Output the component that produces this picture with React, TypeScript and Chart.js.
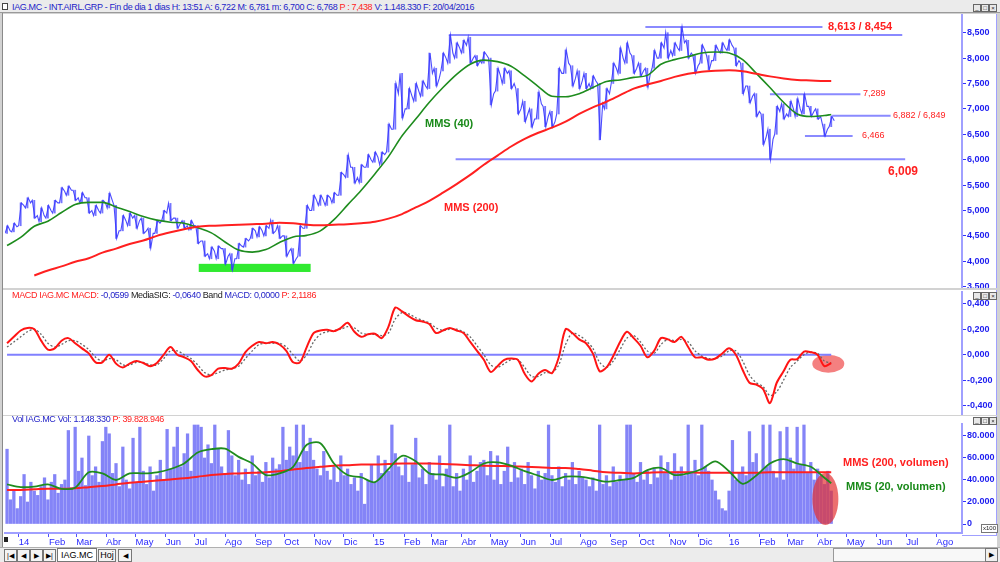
import React, { useEffect, useRef } from "react";
import { Chart, registerables } from "chart.js";

Chart.register(...registerables);

const FONT = 'Arial, "Liberation Sans", Helvetica, sans-serif';

// ---------- time axis ----------
const START_DATE = "2013-12-20"; // date of the first weekly bar
const MONTH_LABELS = ["14","Feb","Mar","Abr","May","Jun","Jul","Ago","Sep","Oct","Nov","Dic","15","Feb","Mar","Abr","May","Jun","Jul","Ago","Sep","Oct","Nov","Dic","16","Feb","Mar","Abr","May","Jun","Jul","Ago"];
const FIRST_YEAR = 2014;

// ---------- price (EUR), one entry per week from START_DATE ----------
const PRICE_HIGH = [
  4.70, 4.75, 5.15, 5.25, 5.20, 5.05, 5.10, 5.20, 5.45, 5.48,
  5.40, 5.35, 5.25, 5.10, 5.20, 5.34, 5.10, 4.90, 4.95, 4.90,
  4.85, 4.65, 4.80, 5.00, 5.14, 4.85, 4.80, 4.80, 4.70, 4.40,
  4.28, 4.30, 4.25, 4.15, 4.35, 4.45, 4.65, 4.68, 4.70, 4.81,
  4.70, 4.50, 4.25, 4.70, 5.10, 5.30, 5.30, 5.30, 5.35, 5.75,
  6.09, 5.85, 5.90, 6.10, 6.15, 6.15, 6.70, 7.50, 7.70, 7.40,
  7.50, 7.55, 8.10, 7.80, 8.10, 8.45, 8.30, 8.35, 8.41, 8.05,
  8.12, 8.00, 7.80, 7.80, 7.75, 7.40, 7.15, 7.00, 7.33, 7.05,
  6.95, 7.80, 8.16, 7.85, 7.75, 7.70, 7.65, 7.50, 7.40, 7.90,
  8.20, 8.30, 8.05, 7.90, 7.80, 8.15, 8.30, 8.50, 8.30, 8.613,
  8.35, 8.05, 8.26, 8.05, 8.25, 8.30, 8.36, 8.20, 7.90, 7.45,
  7.30, 6.90, 6.60, 7.05, 7.10, 7.15, 7.20, 7.289, 7.05, 7.00,
  6.70, 6.85,
];
const PRICE_LOW = [
  4.55, 4.58, 4.70, 5.05, 4.85, 4.78, 4.85, 4.95, 5.15, 5.30,
  5.20, 5.15, 4.95, 4.90, 4.95, 5.05, 4.45, 4.60, 4.70, 4.65,
  4.55, 4.26, 4.55, 4.80, 4.80, 4.65, 4.65, 4.62, 4.35, 4.10,
  4.05, 4.05, 3.95, 3.83, 4.05, 4.28, 4.45, 4.48, 4.50, 4.55,
  4.45, 4.10, 3.96, 4.10, 4.65, 5.00, 5.10, 5.10, 5.15, 5.30,
  5.65, 5.54, 5.55, 5.85, 5.95, 5.90, 6.15, 6.60, 6.82, 7.00,
  7.15, 7.25, 7.40, 7.45, 7.75, 7.90, 8.00, 8.10, 7.90, 7.85,
  7.90, 7.08, 7.35, 7.50, 7.40, 6.90, 6.75, 6.64, 6.80, 6.65,
  6.64, 6.90, 7.70, 7.45, 7.40, 7.40, 7.40, 6.39, 7.00, 7.50,
  7.70, 7.90, 7.70, 7.65, 7.43, 7.80, 8.00, 8.00, 8.05, 8.15,
  8.00, 7.70, 7.90, 7.77, 7.95, 8.10, 8.15, 7.85, 7.30, 7.12,
  6.85, 6.30, 6.009, 6.50, 6.80, 6.85, 6.85, 6.90, 6.85, 6.80,
  6.466, 6.65,
];
const PRICE_CLOSE = [
  4.60, 4.68, 5.10, 5.15, 4.90, 4.90, 5.00, 5.15, 5.38, 5.40,
  5.25, 5.25, 5.00, 5.00, 5.15, 5.20, 4.60, 4.80, 4.85, 4.80,
  4.60, 4.55, 4.75, 4.95, 4.85, 4.75, 4.70, 4.70, 4.40, 4.15,
  4.20, 4.25, 4.10, 4.05, 4.30, 4.40, 4.60, 4.60, 4.65, 4.60,
  4.50, 4.20, 4.05, 4.65, 5.00, 5.20, 5.20, 5.25, 5.30, 5.70,
  5.85, 5.65, 5.85, 6.00, 6.05, 6.10, 6.60, 7.30, 7.00, 7.25,
  7.35, 7.45, 7.70, 7.60, 8.00, 8.10, 8.20, 8.25, 8.00, 7.95,
  8.05, 7.30, 7.65, 7.70, 7.50, 7.00, 6.90, 6.80, 7.10, 6.85,
  6.75, 7.70, 7.90, 7.60, 7.55, 7.50, 7.55, 7.10, 7.30, 7.80,
  8.00, 8.10, 7.80, 7.75, 7.70, 8.00, 8.20, 8.15, 8.20, 8.30,
  8.10, 7.85, 8.15, 7.95, 8.15, 8.20, 8.25, 7.95, 7.45, 7.25,
  6.95, 6.45, 6.40, 6.95, 6.90, 7.00, 7.00, 7.05, 6.95, 6.85,
  6.60, 6.768,
];

// moving averages read every second week (weeks 0,2,...,120) plus the last week
const MMS40 = [
  4.31, 4.47, 4.69, 4.79, 4.96, 5.12, 5.16, 5.16, 5.07, 4.98,
  4.88, 4.81, 4.77, 4.75, 4.66, 4.56, 4.38, 4.22, 4.18, 4.23,
  4.37, 4.48, 4.51, 4.60, 4.82, 5.11, 5.40, 5.72, 6.06, 6.47,
  6.80, 7.13, 7.42, 7.68, 7.88, 7.96, 7.93, 7.84, 7.65, 7.44,
  7.25, 7.24, 7.30, 7.42, 7.54, 7.57, 7.62, 7.66, 7.88, 7.97,
  8.03, 8.10, 8.12, 8.10, 7.97, 7.70, 7.42, 7.13, 6.90, 6.85,
  6.87, 6.89,
];
const MMS200 = [
  null, null, 3.72, 3.82, 3.90, 3.99, 4.06, 4.17, 4.25, 4.34,
  4.41, 4.50, 4.57, 4.63, 4.68, 4.70, 4.71, 4.72, 4.73, 4.74,
  4.76, 4.75, 4.72, 4.71, 4.72, 4.73, 4.75, 4.78, 4.84, 4.93,
  5.06, 5.19, 5.35, 5.52, 5.70, 5.90, 6.08, 6.26, 6.41, 6.53,
  6.63, 6.75, 6.90, 7.03, 7.14, 7.27, 7.40, 7.48, 7.55, 7.63,
  7.69, 7.73, 7.75, 7.76, 7.74, 7.69, 7.64, 7.60, 7.57, 7.56,
  7.55, 7.55,
];
const PRICE_TICKS = [3.5, 4, 4.5, 5, 5.5, 6, 6.5, 7, 7.5, 8, 8.5];

// horizontal reference levels
const LEVEL_VALUES = [8.613, 8.454, 7.289, 6.866, 6.466, 6.009];
const LEVEL_FROM = ["2015-10-07", "2015-03-19", "2016-02-12", "2016-04-16", "2016-03-19", "2015-03-26"];
const LEVEL_TO = ["2016-04-06", "2016-06-27", "2016-05-15", "2016-06-15", "2016-05-07", "2016-06-30"];

// support zone (green band)
const SUPPORT_DATES = ["2014-07-05", "2014-10-28"];
const SUPPORT_RANGE = [3.79, 3.95];

// ---------- MACD, one entry per week ----------
const MACD = [
  0.09, 0.14, 0.19, 0.21, 0.20, 0.11, 0.04, 0.05, 0.11, 0.13,
  0.09, 0.05, 0.01, -0.06, -0.06, 0.00, -0.07, -0.10, -0.07, -0.05,
  -0.065, -0.09, -0.065, 0.00, 0.06, 0.00, -0.02, -0.05, -0.12, -0.17,
  -0.16, -0.11, -0.105, -0.11, -0.07, 0.02, 0.07, 0.10, 0.09, 0.10,
  0.08, 0.03, -0.06, -0.06, 0.06, 0.17, 0.19, 0.195, 0.185, 0.21,
  0.25, 0.18, 0.14, 0.16, 0.165, 0.13, 0.22, 0.37, 0.34, 0.30,
  0.27, 0.26, 0.24, 0.17, 0.19, 0.21, 0.19, 0.17, 0.10, 0.03,
  -0.04, -0.135, -0.09, -0.04, -0.03, -0.04, -0.15, -0.21, -0.15, -0.12,
  -0.145, -0.02, 0.20, 0.17, 0.12, 0.09, 0.01, -0.13, -0.10, -0.01,
  0.10, 0.18, 0.13, 0.07, -0.02, 0.03, 0.13, 0.12, 0.10, 0.14,
  0.06, -0.02, -0.02, -0.04, -0.03, 0.01, 0.05, 0.00, -0.12, -0.22,
  -0.235, -0.27, -0.38, -0.22, -0.13, -0.04, -0.035, 0.025, 0.02, 0.00,
  -0.09, -0.065,
];
const MACD_SIGNAL = [
  0.06, 0.10, 0.14, 0.18, 0.20, 0.16, 0.09, 0.06, 0.08, 0.11,
  0.11, 0.08, 0.04, -0.02, -0.05, -0.03, -0.04, -0.08, -0.08, -0.06,
  -0.06, -0.08, -0.08, -0.03, 0.03, 0.03, 0.00, -0.03, -0.08, -0.14,
  -0.16, -0.14, -0.12, -0.11, -0.09, -0.03, 0.03, 0.08, 0.09, 0.09,
  0.09, 0.06, 0.00, -0.05, 0.00, 0.10, 0.16, 0.18, 0.19, 0.20,
  0.22, 0.21, 0.17, 0.16, 0.16, 0.15, 0.17, 0.28, 0.33, 0.32,
  0.29, 0.27, 0.25, 0.21, 0.19, 0.20, 0.20, 0.18, 0.14, 0.07,
  0.00, -0.08, -0.10, -0.07, -0.04, -0.04, -0.10, -0.17, -0.17, -0.14,
  -0.14, -0.08, 0.08, 0.17, 0.15, 0.11, 0.05, -0.06, -0.10, -0.05,
  0.04, 0.13, 0.15, 0.10, 0.03, 0.01, 0.08, 0.12, 0.11, 0.12,
  0.10, 0.03, -0.01, -0.03, -0.03, -0.01, 0.03, 0.03, -0.05, -0.16,
  -0.22, -0.25, -0.32, -0.29, -0.20, -0.10, -0.05, 0.00, 0.02, 0.01,
  -0.05, -0.064,
];
const MACD_BAND = [0, 0];
const MACD_TICKS = [-0.4, -0.2, 0, 0.2, 0.4];
const MACD_HIGHLIGHT_DATE = "2016-04-12";
const MACD_HIGHLIGHT_VALUE = -0.07;

// ---------- volume (thousands), two entries per week ----------
const VOLUME = [
  68, 22, 30, 14, 25, 45, 20, 38, 30, 26,
  34, 42, 22, 38, 45, 28, 36, 40, 85, 33,
  88, 48, 60, 35, 80, 44, 52, 38, 75, 88,
  82, 46, 55, 34, 70, 40, 32, 78, 38, 88,
  48, 36, 52, 30, 44, 58, 40, 86, 50, 70,
  88, 52, 64, 82, 48, 90, 90, 88, 60, 72,
  55, 90, 68, 52, 46, 85, 62, 44, 58, 40,
  50, 36, 62, 44, 48, 38, 56, 42, 60, 50,
  54, 88, 58, 70, 62, 90, 56, 90, 66, 78,
  58, 50, 44, 66, 48, 40, 52, 38, 62, 44,
  50, 36, 42, 30, 46, 18, 40, 54, 38, 62,
  46, 58, 48, 90, 64, 52, 44, 60, 38, 54,
  78, 42, 50, 36, 56, 46, 40, 62, 34, 50,
  90, 34, 46, 30, 50, 40, 62, 38, 48, 56,
  58, 44, 66, 40, 62, 36, 48, 70, 38, 56,
  42, 50, 36, 56, 44, 32, 48, 40, 46, 90,
  44, 38, 52, 34, 46, 40, 56, 36, 48, 42,
  40, 34, 42, 30, 90, 36, 44, 34, 52, 38,
  44, 40, 90, 90, 46, 38, 56, 40, 48, 36,
  50, 42, 62, 46, 56, 40, 64, 48, 52, 44,
  90, 48, 58, 44, 90, 52, 48, 40, 30, 22,
  14, 12, 30, 76, 40, 46, 52, 44, 84, 56,
  64, 46, 90, 52, 90, 48, 42, 84, 40, 88,
  60, 50, 88, 54, 90, 46, 56, 40, 50, 44,
  36, 48, 30,
];
const VOL_MMS200 = [
  31, 31, 31.5, 32, 32, 32.5, 33.5, 34.5, 36, 37.5,
  38.5, 39.5, 40.5, 41.5, 43, 44.5, 45.5, 46, 46.5, 47,
  48, 49.5, 51, 52, 53, 53.5, 54, 54, 54.5, 55,
  55, 55, 54.5, 54, 53.5, 53, 52.7, 52.5, 52, 51.5,
  51, 51, 50, 48.5, 47, 46.5, 46, 46.5, 47, 47,
  47, 46.5, 46.5, 46.5, 46.5, 46.5, 47, 47, 47, 47,
  47, 47,
];
const VOL_MMS20 = [
  36, 33.5, 34, 36, 32, 33, 47, 46, 40, 46,
  46, 47, 50, 55, 65, 68, 68.5, 61, 55, 44.5,
  46, 52, 72, 73.5, 55, 44.5, 42.5, 38, 50, 62,
  57, 46, 45, 42, 47, 55, 56, 53, 48, 44,
  40, 43, 43, 41, 38.5, 40, 42, 49, 51, 44.5,
  46, 50, 57, 48, 36.5, 44, 55, 59, 55, 52,
  42, 37,
];
const VOL_TICKS = [0, 20, 40, 60, 80];
const VOL_HIGHLIGHT_DATE = "2016-04-09";
const VOL_HIGHLIGHT_VALUE = 22.7;

// ---------- helpers ----------
const DAY_MS = 86400000;
const T0 = Date.parse(START_DATE + "T00:00:00Z");
const weekOf = (iso: string) => (Date.parse(iso + "T00:00:00Z") - T0) / (7 * DAY_MS);
const MONTH_STARTS = MONTH_LABELS.map((_, k) => {
  const y = FIRST_YEAR + Math.floor(k / 12);
  const m = (k % 12) + 1;
  return `${y}-${String(m).padStart(2, "0")}-01`;
});
const LAST_WEEK = PRICE_CLOSE.length - 1;
const MA_WEEKS = MMS40.map((_, k) => (k < MMS40.length - 1 ? 2 * k : LAST_WEEK));
const X_MIN = -0.3;
const X_MAX = 140.2;

const fmtDec = (v: number) => v.toFixed(3).replace(".", ",");
const fmtVol = (v: number) => (v === 0 ? "0" : `${v}.000`);

function yAxis(min: number, max: number, ticks: number[], fmt: (v: number) => string) {
  return {
    type: "linear",
    position: "right",
    min,
    max,
    afterBuildTicks: (s: any) => {
      s.ticks = ticks.map((v) => ({ value: v }));
    },
    afterFit: (s: any) => {
      s.width = 35;
      s.paddingTop = 0;
      s.paddingBottom = 0;
    },
    ticks: {
      autoSkip: false,
      callback: (v: any) => fmt(Number(v)),
      color: "#1c1cf0",
      font: { family: FONT, size: 9, weight: "bold" },
      padding: 1,
    },
    grid: { drawOnChartArea: false, drawTicks: true, tickLength: 4, color: "#3030ff", offset: false },
    border: { display: true, color: "#a0a0ff", width: 2 },
  };
}

function xHidden() {
  return { type: "linear", min: X_MIN, max: X_MAX, offset: false, display: false, grid: { offset: false } };
}

function xMonths() {
  return {
    type: "linear",
    position: "bottom",
    min: X_MIN,
    max: X_MAX,
    offset: false,
    afterBuildTicks: (s: any) => {
      s.ticks = MONTH_STARTS.map((d) => ({ value: weekOf(d) }));
    },
    afterFit: (s: any) => {
      s.height = 14;
      s.paddingLeft = 0;
      s.paddingRight = 0;
    },
    ticks: {
      autoSkip: false,
      maxRotation: 0,
      minRotation: 0,
      align: "start",
      padding: 0,
      color: "#2a2aff",
      font: { family: FONT, size: 9.5 },
      callback: (_v: any, i: number) => MONTH_LABELS[i],
    },
    grid: { drawOnChartArea: false, drawTicks: true, tickLength: 4, color: "#5050ff", offset: false },
    border: { display: true, color: "#a0a0ff", width: 2 },
  };
}

const baseOptions = (padding: any) => ({
  animation: false,
  responsive: false,
  maintainAspectRatio: false,
  events: [],
  layout: { padding },
  plugins: { legend: { display: false }, tooltip: { enabled: false } },
});

const line = (data: any[], color: string, width: number, order: number, extra: any = {}) => ({
  type: "line",
  data,
  borderColor: color,
  borderWidth: width,
  pointRadius: 0,
  fill: false,
  order,
  ...extra,
});

function ellipse(chart: any, date: string, value: number, rx: number, ry: number, color: string) {
  const { ctx, scales } = chart;
  const cx = scales.x.getPixelForValue(weekOf(date));
  const cy = scales.y.getPixelForValue(value);
  ctx.save();
  ctx.fillStyle = color;
  ctx.beginPath();
  ctx.ellipse(cx, cy, rx, ry, 0, 0, Math.PI * 2);
  ctx.fill();
  ctx.restore();
}

function WinButtons({ left, top }: { left: number; top: number }) {
  const box: React.CSSProperties = {
    width: 6,
    height: 6,
    border: "1px solid #666",
    background: "#e8e8e8",
    fontSize: 6,
    lineHeight: "6px",
    textAlign: "center",
    color: "#222",
    fontFamily: FONT,
  };
  return (
    <div style={{ position: "absolute", left, top, display: "flex", gap: 0 }}>
      <div style={box}>_</div>
      <div style={box}>□</div>
      <div style={box}>×</div>
    </div>
  );
}

const txt = (left: number, top: number, size: number, color: string, bold: boolean, text: string) => (
  <div
    style={{
      position: "absolute",
      left,
      top,
      fontSize: size,
      lineHeight: `${size}px`,
      color,
      fontWeight: bold ? "bold" : "normal",
      whiteSpace: "nowrap",
      fontFamily: FONT,
    }}
  >
    {text}
  </div>
);

export default function App() {
  const priceRef = useRef<HTMLCanvasElement>(null);
  const macdRef = useRef<HTMLCanvasElement>(null);
  const volRef = useRef<HTMLCanvasElement>(null);

  useEffect(() => {
    const charts: Chart[] = [];

    // ---------- price ----------
    const supportPlugin = {
      id: "support",
      beforeDatasetsDraw(chart: any) {
        const { ctx, scales } = chart;
        const x1 = scales.x.getPixelForValue(weekOf(SUPPORT_DATES[0]));
        const x2 = scales.x.getPixelForValue(weekOf(SUPPORT_DATES[1]));
        const y1 = scales.y.getPixelForValue(SUPPORT_RANGE[1]);
        const y2 = scales.y.getPixelForValue(SUPPORT_RANGE[0]);
        ctx.save();
        ctx.fillStyle = "#30ea30";
        ctx.fillRect(x1, y1, x2 - x1, y2 - y1);
        ctx.restore();
      },
    };
    // weekly path: open side, opposite extreme, close (low/high order follows the week's direction)
    const pricePath: any[] = [];
    PRICE_CLOSE.forEach((c, i) => {
      const up = i === 0 || c >= PRICE_CLOSE[i - 1];
      pricePath.push({ x: i - 0.3, y: up ? PRICE_LOW[i] : PRICE_HIGH[i] });
      pricePath.push({ x: i + 0.1, y: up ? PRICE_HIGH[i] : PRICE_LOW[i] });
      pricePath.push({ x: i + 0.45, y: c });
    });
    const priceDatasets: any[] = [
      {
        type: "bar",
        data: PRICE_LOW.map((lo, i) => ({ x: i, y: [lo, PRICE_HIGH[i]] })),
        backgroundColor: "rgba(70,70,255,0.75)",
        barThickness: 1.2,
        order: 5,
      },
      line(pricePath, "rgba(55,55,255,0.9)", 1.1, 4),
      ...LEVEL_VALUES.map((v, k) =>
        line([{ x: weekOf(LEVEL_FROM[k]), y: v }, { x: weekOf(LEVEL_TO[k]), y: v }], "#8a8aff", 2, 6)
      ),
      line(MA_WEEKS.map((w, k) => ({ x: w, y: MMS40[k] })), "#1e8c1e", 1.6, 2, { cubicInterpolationMode: "monotone" }),
      line(MA_WEEKS.map((w, k) => ({ x: w, y: MMS200[k] })), "#ff2020", 2, 1, { cubicInterpolationMode: "monotone" }),
    ];
    if (priceRef.current) {
      charts.push(
        new Chart(priceRef.current, {
          type: "bar",
          data: { datasets: priceDatasets },
          options: {
            ...baseOptions({ left: 2, right: 0, top: 0, bottom: 0 }),
            scales: { x: xHidden(), y: yAxis(3.4744, 8.868, PRICE_TICKS, fmtDec) },
          } as any,
          plugins: [supportPlugin],
        } as any)
      );
    }

    // ---------- MACD ----------
    const macdPlugin = {
      id: "macdHighlight",
      beforeDatasetsDraw(chart: any) {
        ellipse(chart, MACD_HIGHLIGHT_DATE, MACD_HIGHLIGHT_VALUE, 16, 9, "rgba(240,85,85,0.75)");
      },
    };
    if (macdRef.current) {
      charts.push(
        new Chart(macdRef.current, {
          type: "line",
          data: {
            datasets: [
              line([{ x: 0, y: MACD_BAND[0] }, { x: LAST_WEEK, y: MACD_BAND[1] }], "#8080ff", 2, 3),
              line(MACD_SIGNAL.map((v, i) => ({ x: i, y: v })), "#666666", 1.3, 2, { borderDash: [2, 2], tension: 0.3 }),
              line(MACD.map((v, i) => ({ x: i, y: v })), "#ff1414", 2, 1, { tension: 0.3 }),
            ],
          },
          options: {
            ...baseOptions({ left: 2, right: 0, top: 2, bottom: 1 }),
            scales: { x: xHidden(), y: yAxis(-0.4651, 0.4918, MACD_TICKS, fmtDec) },
          } as any,
          plugins: [macdPlugin],
        } as any)
      );
    }

    // ---------- volume ----------
    const volPlugin = {
      id: "volHighlight",
      afterDatasetDraw(chart: any, args: any) {
        if (args.index === 0) {
          ellipse(chart, VOL_HIGHLIGHT_DATE, VOL_HIGHLIGHT_VALUE, 13, 26, "rgba(228,50,50,0.7)");
        }
      },
    };
    if (volRef.current) {
      charts.push(
        new Chart(volRef.current, {
          type: "bar",
          data: {
            datasets: [
              {
                type: "bar",
                data: VOLUME.map((v, i) => ({ x: i / 2, y: v })),
                backgroundColor: "rgba(105,105,245,0.82)",
                barThickness: 2.6,
                order: 5,
              },
              line(MA_WEEKS.map((w, k) => ({ x: w, y: VOL_MMS200[k] })), "#ff2020", 2, 2, { cubicInterpolationMode: "monotone" }),
              line(MA_WEEKS.map((w, k) => ({ x: w, y: VOL_MMS20[k] })), "#1e8c1e", 1.8, 1, { tension: 0.3 }),
            ],
          },
          options: {
            ...baseOptions({ left: 2, right: 0, top: 8, bottom: 0 }),
            scales: { x: xMonths(), y: yAxis(-8.18, 90.9, VOL_TICKS, fmtVol) },
          } as any,
          plugins: [volPlugin],
        } as any)
      );
    }

    return () => charts.forEach((c) => c.destroy());
  }, []);

  const headStyle: React.CSSProperties = {
    position: "absolute",
    left: 12,
    fontSize: 9,
    lineHeight: "10px",
    letterSpacing: "-0.35px",
    whiteSpace: "nowrap",
    fontFamily: FONT,
  };
  const blue = "#2424c8";
  const red = "#ff2020";
  const green = "#1a8a1a";

  return (
    <div
      style={{
        position: "fixed",
        left: 0,
        top: 0,
        width: 1000,
        height: 562,
        background: "#d2d2d2",
        overflow: "hidden",
        fontFamily: FONT,
      }}
    >
      {/* title bar */}
      <div style={{ position: "absolute", left: 0, top: 0, width: 1000, height: 12, background: "#ebebeb" }} />
      <div style={{ position: "absolute", left: 2, top: 3, width: 4, height: 5, border: "1px solid #444", background: "#fff" }} />
      <div style={{ ...headStyle, top: 2, color: blue }}>
        IAG.MC - INT.AIRL.GRP - Fin de dia 1 dias H: 13:51 A: 6,722 M: 6,781 m: 6,700 C: 6,768{" "}
        <span style={{ color: red }}>P : 7,438</span> V: 1.148.330 F: 20/04/2016
      </div>
      <WinButtons left={973} top={4} />

      {/* panels */}
      <canvas ref={priceRef} width={994} height={274} style={{ position: "absolute", left: 3, top: 14, background: "#fff", display: "block" }} />
      <canvas ref={macdRef} width={994} height={125} style={{ position: "absolute", left: 3, top: 290, background: "#fff", display: "block" }} />
      <canvas ref={volRef} width={994} height={131} style={{ position: "absolute", left: 3, top: 416, background: "#fff", display: "block" }} />

      {/* frame lines */}
      <div style={{ position: "absolute", left: 2, top: 12, width: 1, height: 535, background: "#8a8a8a" }} />
      <div style={{ position: "absolute", left: 0, top: 12, width: 1000, height: 1, background: "#9a9a9a" }} />
      <div style={{ position: "absolute", left: 996, top: 14, width: 1, height: 274, background: "#a0a0ff" }} />
      <div style={{ position: "absolute", left: 996, top: 290, width: 1, height: 125, background: "#a0a0ff" }} />
      <div style={{ position: "absolute", left: 996, top: 416, width: 1, height: 119, background: "#a0a0ff" }} />
      <div style={{ position: "absolute", left: 962, top: 535, width: 35, height: 1, background: "#a0a0ff" }} />

      {/* price annotations */}
      {txt(425, 118, 11, green, true, "MMS (40)")}
      {txt(444, 202, 11, red, true, "MMS (200)")}
      {txt(828, 21, 11, red, true, "8,613 / 8,454")}
      {txt(863, 89, 9, red, false, "7,289")}
      {txt(893, 111, 9, red, false, "6,882 / 6,849")}
      {txt(862, 131, 9, red, false, "6,466")}
      {txt(888, 165, 12, red, true, "6,009")}

      {/* MACD header */}
      <div style={{ ...headStyle, top: 290, color: red }}>
        MACD IAG.MC MACD: <span style={{ color: blue }}>-0,0599</span> <span style={{ color: "#222" }}>MediaSIG:</span>{" "}
        <span style={{ color: blue }}>-0,0640</span> <span style={{ color: "#222" }}>Band</span>{" "}
        <span style={{ color: blue }}>MACD: 0,0000</span> P: 2,1186
      </div>
      <WinButtons left={973} top={292} />

      {/* volume header */}
      <div style={{ ...headStyle, top: 414, color: blue }}>
        Vol IAG.MC Vol: 1.148.330 <span style={{ color: red }}>P: 39.828.946</span>
      </div>
      <WinButtons left={973} top={417} />
      {txt(843, 457, 11, red, true, "MMS (200, volumen)")}
      {txt(846, 481, 11, green, true, "MMS (20, volumen)")}
      <div
        style={{
          position: "absolute",
          left: 981,
          top: 524,
          width: 15,
          height: 7,
          border: "1px solid #777",
          fontSize: 6,
          lineHeight: "7px",
          textAlign: "center",
          background: "#fff",
          color: "#222",
        }}
      >
        x100
      </div>
      <div style={{ position: "absolute", left: 4, top: 537, width: 4, height: 5, background: "#222" }} />

      {/* bottom bar */}
      <div style={{ position: "absolute", left: 0, top: 547, width: 1000, height: 15, background: "#ececec", borderTop: "1px solid #b0b0b0" }} />
      {["|◀", "◀", "▶", "▶|"].map((s, k) => (
        <div
          key={k}
          style={{
            position: "absolute",
            left: 4 + k * 13,
            top: 549,
            width: 11,
            height: 11,
            border: "1px solid #777",
            background: "#f4f4f4",
            fontSize: 7,
            lineHeight: "11px",
            textAlign: "center",
            color: "#000",
          }}
        >
          {s}
        </div>
      ))}
      <div style={{ position: "absolute", left: 57, top: 548, width: 38, height: 12, background: "#fff", border: "1px solid #777", fontSize: 9, lineHeight: "12px", textAlign: "center", color: "#000" }}>
        IAG.MC
      </div>
      <div style={{ position: "absolute", left: 98, top: 549, width: 16, height: 11, background: "#f4f4f4", border: "1px solid #777", fontSize: 9, lineHeight: "11px", textAlign: "center", color: "#000" }}>
        Hoj
      </div>
      <div style={{ position: "absolute", left: 118, top: 549, width: 12, height: 11, background: "#f4f4f4", border: "1px solid #777", fontSize: 7, lineHeight: "11px", textAlign: "center", color: "#000" }}>
        ◀
      </div>
      <div style={{ position: "absolute", left: 833, top: 548, width: 163, height: 12, background: "#f8f8f8", border: "1px solid #999" }} />
      <div style={{ position: "absolute", left: 985, top: 548, width: 11, height: 12, background: "#f0f0f0", border: "1px solid #777", fontSize: 7, lineHeight: "12px", textAlign: "center", color: "#000" }}>
        ▶
      </div>
    </div>
  );
}
